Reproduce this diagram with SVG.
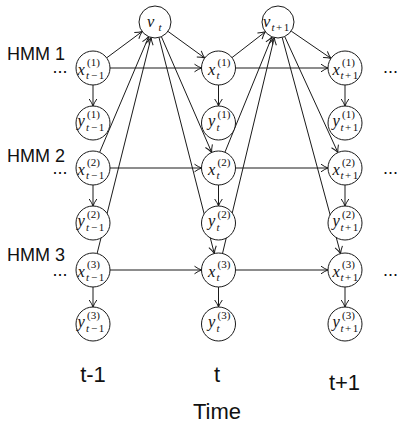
<svg xmlns="http://www.w3.org/2000/svg" width="407" height="431" viewBox="0 0 407 431">
<style>
.e{stroke:#1a1a1a;stroke-width:1;fill:none;marker-end:url(#arr)}
.n{fill:#fff;stroke:#1a1a1a;stroke-width:1}
.lb{font-family:"Liberation Serif","Times New Roman",serif;font-size:16.5px;fill:#111}
.it{font-style:italic}
.sm{font-size:11px}
.sans{font-family:"Liberation Sans",Arial,sans-serif;fill:#111}
.hmm{font-size:18px}
.dots{font-size:18px;text-anchor:middle}
.ax{font-size:22px;text-anchor:middle}
</style>
<defs>
<marker id="arr" viewBox="-8 -5 9 10" refX="0" refY="0" markerWidth="9" markerHeight="10" markerUnits="userSpaceOnUse" orient="auto">
<path d="M-7,-3.8 Q-3,-1 0,0 Q-3,1 -7,3.8" fill="none" stroke="#1a1a1a" stroke-width="1"/>
</marker>
</defs>

<g id="connectors">
<path class="e" d="M110,68 H201.5"/>
<path class="e" d="M110,168 H201.5"/>
<path class="e" d="M110,270 H201.5"/>
<path class="e" d="M235.5,68 H328"/>
<path class="e" d="M235.5,168 H328"/>
<path class="e" d="M235.5,270 H328"/>
<path class="e" d="M93,85 V106"/>
<path class="e" d="M93,185 V206"/>
<path class="e" d="M93,287 V307"/>
<path class="e" d="M218.5,85 V106"/>
<path class="e" d="M218.5,185 V206"/>
<path class="e" d="M218.5,287 V307"/>
<path class="e" d="M345,85 V106"/>
<path class="e" d="M345,185 V206"/>
<path class="e" d="M345,287 V307"/>
<path class="e" d="M106.6,57.9 L142.2,31.5"/>
<path class="e" d="M99.6,152.4 L148.7,36.7"/>
<path class="e" d="M97.1,253.5 L151.1,37.5"/>
<path class="e" d="M168,31.4 L204.7,58"/>
<path class="e" d="M161.4,36.7 L211.7,152.4"/>
<path class="e" d="M159,37.5 L214.3,253.5"/>
<path class="e" d="M232,57.6 L265.3,31.8"/>
<path class="e" d="M224.9,152.3 L272,36.8"/>
<path class="e" d="M222.5,253.5 L274.3,37.6"/>
<path class="e" d="M291.2,31.1 L331,58.4"/>
<path class="e" d="M284.7,36.5 L337.9,152.5"/>
<path class="e" d="M282.2,37.5 L340.6,253.6"/>
</g>

<g id="node-v-t">
<circle class="n" cx="155" cy="22" r="16"/>
<text class="lb" x="147" y="27"><tspan class="it">v</tspan><tspan class="sm it" x="158.5" y="31">t</tspan></text>
</g>
<g id="node-v-t1">
<circle class="n" cx="278" cy="22" r="16"/>
<text class="lb" x="263" y="27"><tspan class="it">v</tspan><tspan class="sm" x="271.5" y="31"><tspan class="it">t</tspan><tspan dx="1.5">+</tspan><tspan dx="1.5">1</tspan></tspan></text>
</g>

<g id="node-x1-tm1">
<circle class="n" cx="93" cy="68" r="17"/>
<text class="lb" x="77.5" y="75"><tspan class="it">x</tspan><tspan class="sm" x="87" y="65.5">(1)</tspan><tspan class="sm" x="86" y="78.5"><tspan class="it">t</tspan><tspan dx="2">−</tspan><tspan dx="1.5">1</tspan></tspan></text>
</g>
<g id="node-y1-tm1">
<circle class="n" cx="93" cy="123" r="17"/>
<text class="lb" x="77.5" y="126"><tspan class="it">y</tspan><tspan class="sm" x="87" y="117.5">(1)</tspan><tspan class="sm" x="86" y="130.5"><tspan class="it">t</tspan><tspan dx="2">−</tspan><tspan dx="1.5">1</tspan></tspan></text>
</g>
<g id="node-x2-tm1">
<circle class="n" cx="93" cy="168" r="17"/>
<text class="lb" x="77.5" y="175"><tspan class="it">x</tspan><tspan class="sm" x="87" y="165.5">(2)</tspan><tspan class="sm" x="86" y="178.5"><tspan class="it">t</tspan><tspan dx="2">−</tspan><tspan dx="1.5">1</tspan></tspan></text>
</g>
<g id="node-y2-tm1">
<circle class="n" cx="93" cy="223" r="17"/>
<text class="lb" x="77.5" y="226"><tspan class="it">y</tspan><tspan class="sm" x="87" y="217.5">(2)</tspan><tspan class="sm" x="86" y="230.5"><tspan class="it">t</tspan><tspan dx="2">−</tspan><tspan dx="1.5">1</tspan></tspan></text>
</g>
<g id="node-x3-tm1">
<circle class="n" cx="93" cy="270" r="17"/>
<text class="lb" x="77.5" y="277"><tspan class="it">x</tspan><tspan class="sm" x="87" y="267.5">(3)</tspan><tspan class="sm" x="86" y="280.5"><tspan class="it">t</tspan><tspan dx="2">−</tspan><tspan dx="1.5">1</tspan></tspan></text>
</g>
<g id="node-y3-tm1">
<circle class="n" cx="93" cy="324" r="17"/>
<text class="lb" x="77.5" y="327"><tspan class="it">y</tspan><tspan class="sm" x="87" y="318.5">(3)</tspan><tspan class="sm" x="86" y="331.5"><tspan class="it">t</tspan><tspan dx="2">−</tspan><tspan dx="1.5">1</tspan></tspan></text>
</g>

<g id="node-x1-t">
<circle class="n" cx="218.5" cy="68" r="17"/>
<text class="lb" x="208" y="75"><tspan class="it">x</tspan><tspan class="sm" x="217.5" y="65.5">(1)</tspan><tspan class="sm it" x="216.5" y="78.5">t</tspan></text>
</g>
<g id="node-y1-t">
<circle class="n" cx="218.5" cy="123" r="17"/>
<text class="lb" x="208" y="126"><tspan class="it">y</tspan><tspan class="sm" x="217.5" y="117.5">(1)</tspan><tspan class="sm it" x="216.5" y="130.5">t</tspan></text>
</g>
<g id="node-x2-t">
<circle class="n" cx="218.5" cy="168" r="17"/>
<text class="lb" x="208" y="175"><tspan class="it">x</tspan><tspan class="sm" x="217.5" y="165.5">(2)</tspan><tspan class="sm it" x="216.5" y="178.5">t</tspan></text>
</g>
<g id="node-y2-t">
<circle class="n" cx="218.5" cy="223" r="17"/>
<text class="lb" x="208" y="226"><tspan class="it">y</tspan><tspan class="sm" x="217.5" y="217.5">(2)</tspan><tspan class="sm it" x="216.5" y="230.5">t</tspan></text>
</g>
<g id="node-x3-t">
<circle class="n" cx="218.5" cy="270" r="17"/>
<text class="lb" x="208" y="277"><tspan class="it">x</tspan><tspan class="sm" x="217.5" y="267.5">(3)</tspan><tspan class="sm it" x="216.5" y="280.5">t</tspan></text>
</g>
<g id="node-y3-t">
<circle class="n" cx="218.5" cy="324" r="17"/>
<text class="lb" x="208" y="327"><tspan class="it">y</tspan><tspan class="sm" x="217.5" y="318.5">(3)</tspan><tspan class="sm it" x="216.5" y="331.5">t</tspan></text>
</g>

<g id="node-x1-tp1">
<circle class="n" cx="345" cy="68" r="17"/>
<text class="lb" x="332.5" y="75"><tspan class="it">x</tspan><tspan class="sm" x="342" y="65.5">(1)</tspan><tspan class="sm" x="340.5" y="78.5"><tspan class="it">t</tspan><tspan dx="1.5">+</tspan><tspan dx="1.5">1</tspan></tspan></text>
</g>
<g id="node-y1-tp1">
<circle class="n" cx="345" cy="123" r="17"/>
<text class="lb" x="332.5" y="126"><tspan class="it">y</tspan><tspan class="sm" x="342" y="117.5">(1)</tspan><tspan class="sm" x="340.5" y="130.5"><tspan class="it">t</tspan><tspan dx="1.5">+</tspan><tspan dx="1.5">1</tspan></tspan></text>
</g>
<g id="node-x2-tp1">
<circle class="n" cx="345" cy="168" r="17"/>
<text class="lb" x="332.5" y="175"><tspan class="it">x</tspan><tspan class="sm" x="342" y="165.5">(2)</tspan><tspan class="sm" x="340.5" y="178.5"><tspan class="it">t</tspan><tspan dx="1.5">+</tspan><tspan dx="1.5">1</tspan></tspan></text>
</g>
<g id="node-y2-tp1">
<circle class="n" cx="345" cy="223" r="17"/>
<text class="lb" x="332.5" y="226"><tspan class="it">y</tspan><tspan class="sm" x="342" y="217.5">(2)</tspan><tspan class="sm" x="340.5" y="230.5"><tspan class="it">t</tspan><tspan dx="1.5">+</tspan><tspan dx="1.5">1</tspan></tspan></text>
</g>
<g id="node-x3-tp1">
<circle class="n" cx="345" cy="270" r="17"/>
<text class="lb" x="332.5" y="277"><tspan class="it">x</tspan><tspan class="sm" x="342" y="267.5">(3)</tspan><tspan class="sm" x="340.5" y="280.5"><tspan class="it">t</tspan><tspan dx="1.5">+</tspan><tspan dx="1.5">1</tspan></tspan></text>
</g>
<g id="node-y3-tp1">
<circle class="n" cx="345" cy="324" r="17"/>
<text class="lb" x="332.5" y="327"><tspan class="it">y</tspan><tspan class="sm" x="342" y="318.5">(3)</tspan><tspan class="sm" x="340.5" y="331.5"><tspan class="it">t</tspan><tspan dx="1.5">+</tspan><tspan dx="1.5">1</tspan></tspan></text>
</g>

<g id="labels">
<text class="sans hmm" x="7" y="60">HMM 1</text>
<text class="sans hmm" x="7" y="161.5">HMM 2</text>
<text class="sans hmm" x="7" y="261">HMM 3</text>
<text class="sans dots" x="60" y="73">...</text>
<text class="sans dots" x="60" y="174">...</text>
<text class="sans dots" x="60" y="276">...</text>
<text class="sans dots" x="390.5" y="73">...</text>
<text class="sans dots" x="390.5" y="174">...</text>
<text class="sans dots" x="390.5" y="276">...</text>
<text class="sans ax" x="93" y="381.5">t-1</text>
<text class="sans ax" x="217" y="381.5">t</text>
<text class="sans ax" x="344.5" y="390">t+1</text>
<text class="sans ax" x="217" y="419">Time</text>
</g>
</svg>
